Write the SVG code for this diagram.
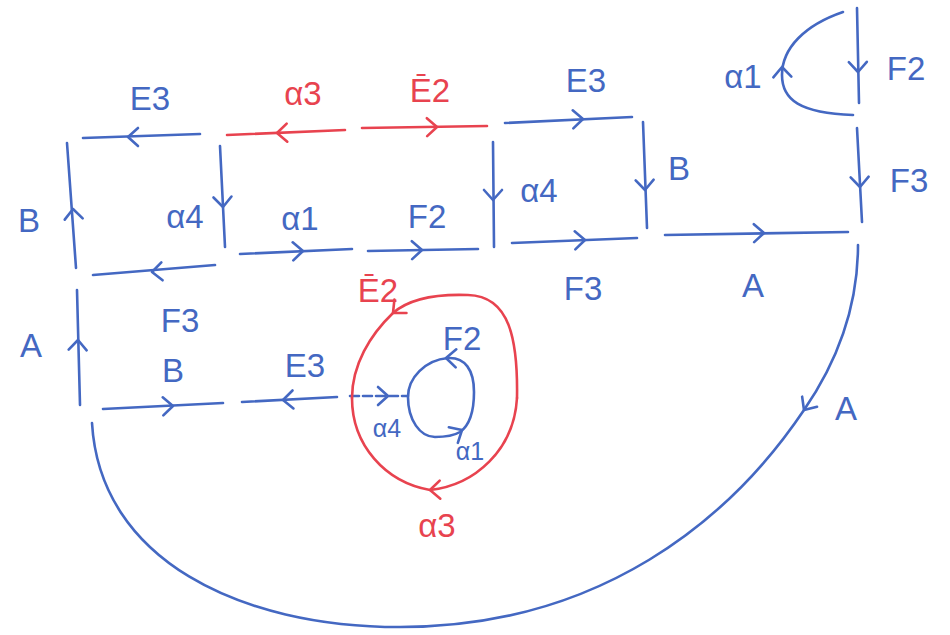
<svg xmlns="http://www.w3.org/2000/svg" width="950" height="635" viewBox="0 0 950 635">
  <defs>
    <style>
      .b { stroke: #4468c2; fill: none; stroke-width: 2.6; stroke-linecap: round; stroke-linejoin: round; }
      .r { stroke: #e8434f; fill: none; stroke-width: 2.6; stroke-linecap: round; stroke-linejoin: round; }
      .tb { fill: #4468c2; font-family: "Liberation Sans", "DejaVu Sans", sans-serif; font-size: 33px; text-anchor: middle; }
      .tr { fill: #e8434f; font-family: "Liberation Sans", "DejaVu Sans", sans-serif; font-size: 33px; text-anchor: middle; }
      .sm { font-size: 25px; }
    </style>
    <path id="chev" d="M-10,-9 L0,0 L-10,9"/>
  </defs>
  <rect width="950" height="635" fill="#ffffff"/>

  <g id="connectors">
    <!-- top-left square -->
    <g id="e-E3-top-left"><path class="b" d="M83,138 L200,134"/><use href="#chev" class="b" transform="translate(128,137) rotate(180)"/></g>
    <g id="e-B-left"><path class="b" d="M67,143 L76,268"/><use href="#chev" class="b" transform="translate(73,209) rotate(-94)"/></g>
    <g id="e-a4-left"><path class="b" d="M220,146 L225,247"/><use href="#chev" class="b" transform="translate(223,207) rotate(87)"/></g>
    <g id="e-F3-left"><path class="b" d="M93,275 L215,265"/><use href="#chev" class="b" transform="translate(152,272) rotate(176)"/></g>
    <!-- red top -->
    <g id="e-a3-top"><path class="r" d="M227,135 L345,130"/><use href="#chev" class="r" transform="translate(277,133) rotate(178)"/></g>
    <g id="e-E2-top"><path class="r" d="M362,128 L487,126"/><use href="#chev" class="r" transform="translate(437,127) rotate(-1)"/></g>
    <!-- middle -->
    <g id="e-a1-mid"><path class="b" d="M240,254 L352,249"/><use href="#chev" class="b" transform="translate(303,251) rotate(-2)"/></g>
    <g id="e-F2-mid"><path class="b" d="M368,251 L478,249"/><use href="#chev" class="b" transform="translate(422,250) rotate(-1)"/></g>
    <g id="e-a4-mid"><path class="b" d="M493,142 L494,247"/><use href="#chev" class="b" transform="translate(493,200) rotate(90)"/></g>
    <g id="e-E3-top-right"><path class="b" d="M505,123 L632,117"/><use href="#chev" class="b" transform="translate(583,119) rotate(-2)"/></g>
    <g id="e-B-right"><path class="b" d="M643,122 L647,228"/><use href="#chev" class="b" transform="translate(645,190) rotate(88)"/></g>
    <g id="e-F3-mid"><path class="b" d="M512,243 L637,238"/><use href="#chev" class="b" transform="translate(585,240) rotate(-2)"/></g>
    <g id="e-A-mid"><path class="b" d="M665,235 L848,232"/><use href="#chev" class="b" transform="translate(764,233) rotate(-1)"/></g>
    <!-- right column -->
    <g id="e-F2-right"><path class="b" d="M857,8 L859,103"/><use href="#chev" class="b" transform="translate(858,72) rotate(89)"/></g>
    <g id="e-a1-arc"><path class="b" d="M843,12 C805,25 782,48 782,75 C782,100 800,113 853,115"/><use href="#chev" class="b" transform="translate(782,67) rotate(-92)"/></g>
    <g id="e-F3-right"><path class="b" d="M857,128 L862,222"/><use href="#chev" class="b" transform="translate(860,187) rotate(88)"/></g>
    <!-- big lower curve -->
    <g id="e-A-curve"><path class="b" d="M858,245 C858,310 835,365 804,410 C730,520 600,627 400,627 C240,627 100,560 92,423"/><use href="#chev" class="b" transform="translate(804,410) rotate(124)"/></g>
    <!-- lower left -->
    <g id="e-A-left"><path class="b" d="M77,290 L80,405"/><use href="#chev" class="b" transform="translate(78,340) rotate(-88)"/></g>
    <g id="e-B-bottom"><path class="b" d="M103,409 L223,403"/><use href="#chev" class="b" transform="translate(173,406) rotate(-2)"/></g>
    <g id="e-E3-bottom"><path class="b" d="M242,402 L337,397"/><use href="#chev" class="b" transform="translate(283,400) rotate(177)"/></g>
    <g id="e-a4-inner"><path class="b" d="M350,396 L408,396" stroke-dasharray="9 4"/><use href="#chev" class="b" transform="translate(388,396) rotate(0)"/></g>
    <!-- red ring -->
    <g id="e-E2-ring"><path class="r" d="M517,398 C518,340 510,296 468,295 C440,294 410,298 393,313 C370,335 352,365 352,398"/><use href="#chev" class="r" transform="translate(393,313) rotate(138)"/></g>
    <g id="e-a3-ring"><path class="r" d="M517,398 C514,450 475,485 430,490 C385,482 352,445 352,398"/><use href="#chev" class="r" transform="translate(430,490) rotate(178)"/></g>
    <!-- inner blue loop -->
    <g id="e-inner-loop"><path class="b" d="M474,392 C474,370 465,357 448,358 C425,360 408,378 408,397 C408,420 420,437 435,437 C445,437 455,435 460,432 C470,425 474,410 474,392 Z"/>
      <use href="#chev" class="b" transform="translate(446,358) rotate(182)"/>
      <use href="#chev" class="b" transform="translate(462,430) rotate(-30)"/></g>
  </g>

  <g id="labels">
    <text class="tb" x="150" y="110">E3</text>
    <text class="tb" x="29" y="232">B</text>
    <text class="tb" x="185" y="228">α4</text>
    <text class="tb" x="180" y="332">F3</text>
    <text class="tr" x="303" y="105">α3</text>
    <text class="tr" x="430" y="102">Ē2</text>
    <text class="tb" x="300" y="230">α1</text>
    <text class="tb" x="427" y="228">F2</text>
    <text class="tb" x="539" y="202">α4</text>
    <text class="tb" x="586" y="92">E3</text>
    <text class="tb" x="679" y="180">B</text>
    <text class="tb" x="583" y="300">F3</text>
    <text class="tb" x="753" y="297">A</text>
    <text class="tb" x="743" y="88">α1</text>
    <text class="tb" x="906" y="80">F2</text>
    <text class="tb" x="909" y="192">F3</text>
    <text class="tb" x="31" y="357">A</text>
    <text class="tb" x="173" y="382">B</text>
    <text class="tb" x="305" y="377">E3</text>
    <text class="tr" x="378" y="302">Ē2</text>
    <text class="tb" x="462" y="350">F2</text>
    <text class="tb sm" x="387" y="437">α4</text>
    <text class="tb sm" x="470" y="460">α1</text>
    <text class="tr" x="437" y="537">α3</text>
    <text class="tb" x="846" y="420">A</text>
  </g>
</svg>
